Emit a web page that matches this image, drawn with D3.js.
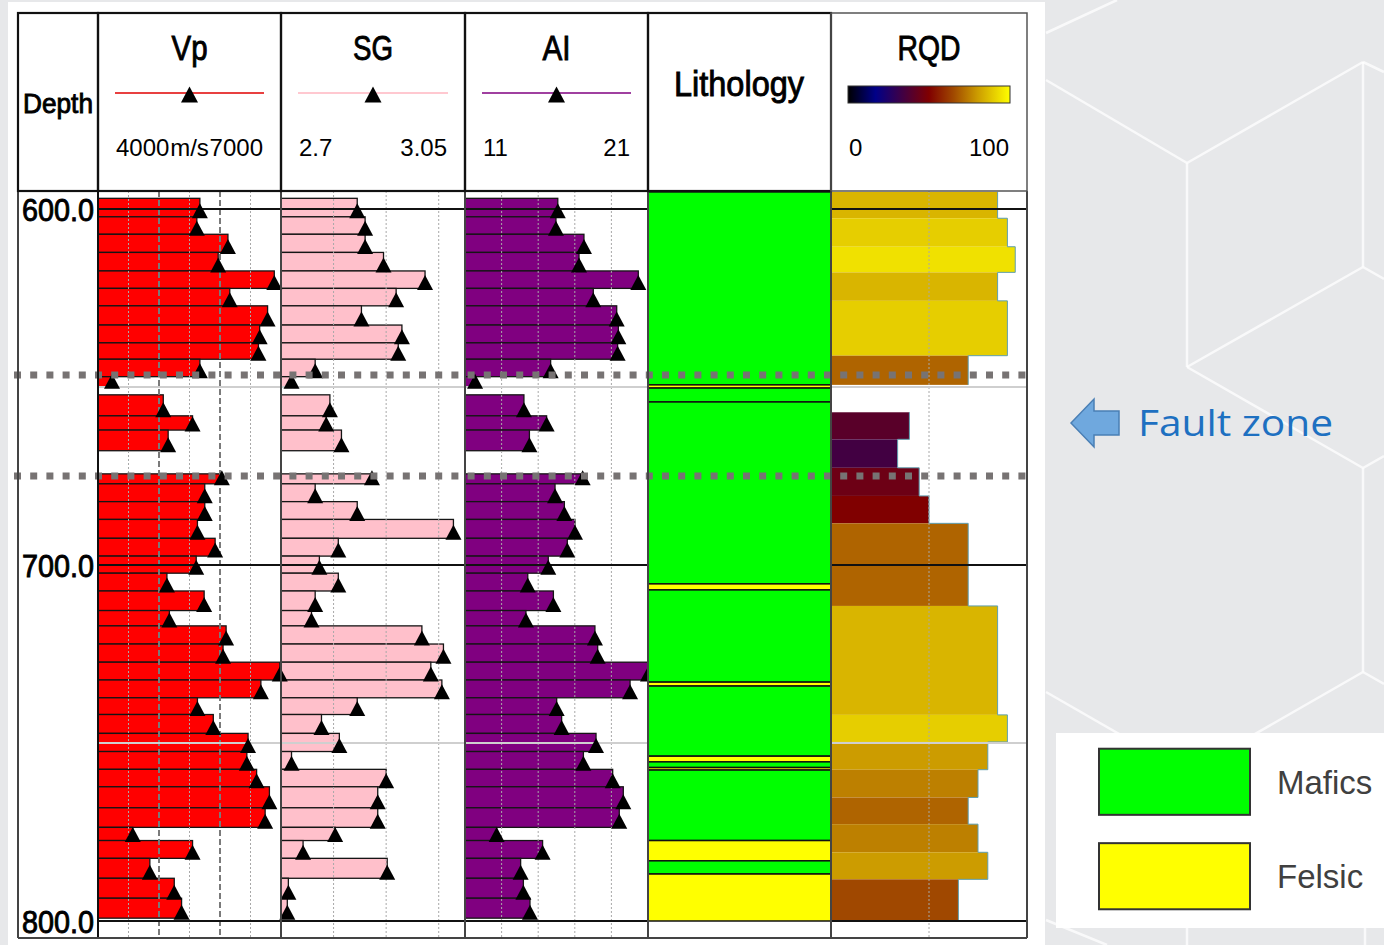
<!DOCTYPE html>
<html>
<head>
<meta charset="utf-8">
<script src="https://cdn.jsdelivr.net/npm/d3@7"></script>
<style>
  body { margin: 0; background: #e7e8ea; }
  #chart svg { display: block; }
</style>
</head>
<body>
<div id="chart"></div>
<script>
// Data
// sample intervals (m) shared by Vp, SG and AI
const sampleTop  = [597.0, 602.2, 607.1, 612.2, 617.4, 622.3, 627.2, 632.6, 637.6, 642.2, 647.1, 652.2, 658.1, 662.1, 674.4, 677.2, 682.2, 687.2, 692.5, 697.5, 702.3, 707.3, 712.8, 717.1, 722.2, 727.3, 732.3, 737.3, 742.0, 747.3, 752.4, 757.4, 762.3, 768.2, 773.7, 777.4, 782.4, 788.0, 793.6]
const sampleBase = [602.2, 607.1, 612.2, 617.4, 622.3, 627.2, 632.6, 637.6, 642.2, 647.1, 650.1, 658.1, 662.1, 667.9, 677.2, 682.2, 687.2, 692.5, 697.5, 702.3, 707.3, 712.8, 717.1, 722.2, 727.3, 732.3, 737.3, 742.0, 747.3, 752.4, 757.4, 762.3, 768.2, 773.7, 777.4, 782.4, 788.0, 793.6, 799.2]
const vpValues = [5670, 5620, 6130, 5970, 6890, 6160, 6780, 6650, 6630, 5670, 4230, 5070, 5550, 5150, 6030, 5750, 5750, 5630, 5920, 5610, 5130, 5740, 5170, 6100, 6050, 6980, 6670, 5630, 5890, 6460, 6440, 6600, 6810, 6740, 4570, 5550, 4850, 5250, 5370]
const sgValues = [2.845, 2.860, 2.860, 2.895, 2.974, 2.919, 2.853, 2.930, 2.923, 2.765, 2.720, 2.793, 2.786, 2.815, 2.873, 2.765, 2.845, 3.028, 2.809, 2.773, 2.809, 2.765, 2.758, 2.968, 3.009, 2.985, 3.006, 2.845, 2.777, 2.811, 2.720, 2.900, 2.884, 2.884, 2.803, 2.742, 2.902, 2.714, 2.712]
const aiValues = [16.07, 15.97, 17.50, 17.23, 20.47, 18.01, 19.29, 19.38, 19.34, 15.68, 11.55, 14.22, 15.46, 14.52, 17.43, 15.92, 16.43, 17.01, 16.59, 15.55, 14.43, 15.83, 14.33, 18.10, 18.25, 21.0, 20.02, 16.01, 16.28, 18.16, 17.47, 19.07, 19.65, 19.43, 12.73, 15.24, 14.04, 14.19, 14.55]

// RQD per core run
const rqdTop   = [595.2, 602.6, 610.6, 617.8, 625.8, 641.2, 657.1, 664.7, 672.7, 680.6, 688.3, 711.5, 742.1, 749.7, 757.5, 765.3, 772.8, 780.7, 788.3]
const rqdBase  = [602.6, 610.6, 617.8, 625.8, 641.2, 649.4, 664.7, 672.7, 680.6, 688.3, 711.5, 742.1, 749.7, 757.5, 765.3, 772.8, 780.7, 788.3, 800.0]
const rqdValues = [85, 90, 94, 85, 90, 70, 40, 34, 45, 50, 70, 85, 90, 80, 75, 70, 75, 80, 65]

// lithology units
const lithTop  = [595.2, 649.4, 650.3, 654.2, 705.3, 707.0, 732.9, 734.0, 753.7, 755.3, 756.9, 757.6, 777.4, 783.1, 786.8]
const lithBase = [649.4, 650.3, 654.2, 705.3, 707.0, 732.9, 734.0, 753.7, 755.3, 756.9, 757.6, 777.4, 783.1, 786.8, 800.0]
const lithType = ['Mafics', 'Felsic', 'Mafics', 'Mafics', 'Felsic', 'Mafics', 'Felsic', 'Mafics', 'Felsic', 'Mafics', 'Felsic', 'Mafics', 'Felsic', 'Mafics', 'Felsic']
const lithCategories = ['Mafics', 'Felsic']

const depthTicks = [600, 700, 800]
const halfTicks = [650, 750]
const faultDepths = [646.6, 675.0]

const vpGrid = [4500, 5000, 5500, 6000, 6500]
const vpMajor = [5000, 6000]
const sgGrid = [2.8, 2.9, 3.0]
const aiGrid = [13, 15, 17, 19]
const rqdGrid = [50]
const rqdStops = [0, 17, 50, 65, 80, 100]

// isosceles triangle, apex up, base on the origin
function triangleType(w, h) {
  return {
    draw(context) {
      context.moveTo(0, -h)
      context.lineTo(w / 2, 0)
      context.lineTo(-w / 2, 0)
      context.closePath()
    }
  }
}

function draw() {
  // Dimensions
  const dimensions = {
    width: 1384,
    height: 945,
    headTop: 13,
    headBottom: 191,
    plotBottom: 938,
  }

  const svg = d3.select('#chart')
    .append('svg')
    .attr('width', dimensions.width)
    .attr('height', dimensions.height)

  // background with faint cube lines
  svg.append('rect').attr('width', dimensions.width).attr('height', dimensions.height).attr('fill', '#e7e8ea')
  const hexLines = [[1046,33,1117,0],[1046,80,1187,163],[1187,163,1187,367],[1187,163,1363,62],[1363,62,1384,72],
    [1363,62,1363,267],[1363,267,1187,367],[1363,267,1384,279],[1187,367,1363,468],[1363,468,1384,456],
    [1363,468,1363,672],[1363,672,1187,773],[1363,672,1384,684],[1187,773,1187,945],[1187,773,1046,692],
    [1046,920,1107,945],[1365,880,1365,945]]
  svg.append('g').selectAll('line').data(hexLines).join('line')
    .attr('x1', d => d[0]).attr('y1', d => d[1]).attr('x2', d => d[2]).attr('y2', d => d[3])
    .attr('stroke', '#ffffff').attr('stroke-opacity', 0.75).attr('stroke-width', 2.5)

  // white slide panel
  svg.append('rect').attr('x', 8).attr('y', 2).attr('width', 1037).attr('height', 943).attr('fill', '#fff')

  // Scales
  const yScale = d3.scaleLinear().domain([600, 800]).range([209, 921])
  const rqdScale = d3.scaleLinear().domain([0, 100]).range([831, 1027]).clamp(true)
  const rqdColor = d3.scaleLinear().domain(rqdStops)
    .range(['#000000', '#000088', '#800000', '#a04800', '#cc9c00', '#ffff00'])

  const tracks = [
    { title: 'Vp', x0: 98, x1: 281, domain: [4000, 7000], values: vpValues, fill: '#ff0000', line: '#e00000',
      lo: '4000', unit: 'm/s', hi: '7000', titleW: 36, grid: vpGrid },
    { title: 'SG', x0: 281, x1: 465, domain: [2.7, 3.05], values: sgValues, fill: '#ffc0cb', line: '#ffb6c1',
      lo: '2.7', unit: '', hi: '3.05', titleW: 40, grid: sgGrid },
    { title: 'AI', x0: 465, x1: 648, domain: [11, 21], values: aiValues, fill: '#800080', line: '#800080',
      lo: '11', unit: '', hi: '21', titleW: 28, grid: aiGrid },
  ]
  tracks.forEach(t => {
    t.scale = d3.scaleLinear().domain(t.domain).range([t.x0, t.x1]).clamp(true)
  })

  const lith = { x0: 648, x1: 831 }
  const lithColor = d3.scaleOrdinal().domain(lithCategories).range(['#00ff00', '#ffff00'])

  const ctr = svg.append('g')
  const tri = d3.symbol().type(triangleType(16, 15))

  // log bars
  tracks.forEach(t => {
    const samples = sampleTop.map((top, i) => ({ top, base: sampleBase[i], v: t.values[i] }))
    ctr.append('g').selectAll('rect').data(samples).join('rect')
      .attr('x', t.x0)
      .attr('y', d => yScale(d.top))
      .attr('width', d => t.scale(d.v) - t.x0)
      .attr('height', d => yScale(d.base) - yScale(d.top))
      .attr('fill', t.fill)
      .attr('stroke', '#151515')
      .attr('stroke-width', 1.3)
    t.samples = samples
  })

  // RQD bars
  const runs = rqdTop.map((top, i) => ({ top, base: rqdBase[i], v: rqdValues[i] }))
  ctr.append('g').selectAll('rect').data(runs).join('rect')
    .attr('x', rqdScale(0))
    .attr('y', d => yScale(d.top))
    .attr('width', d => rqdScale(d.v) - rqdScale(0))
    .attr('height', d => yScale(d.base) - yScale(d.top))
    .attr('fill', d => rqdColor(d.v))
  // thin outline along the right edge of the runs
  const edge = d3.path()
  runs.forEach((d, i) => {
    const prev = runs[i - 1]
    if (prev && prev.base === d.top) edge.lineTo(rqdScale(d.v), yScale(d.top))
    else edge.moveTo(rqdScale(d.v), yScale(d.top))
    edge.lineTo(rqdScale(d.v), yScale(d.base))
  })
  ctr.append('path').attr('d', edge.toString()).attr('fill', 'none').attr('stroke', '#5f9fb0').attr('stroke-width', 1)

  // vertical grid
  const grid = ctr.append('g')
  tracks.forEach(t => {
    const major = d => t.title === 'Vp' && vpMajor.includes(d)
    grid.selectAll(null).data(t.grid).join('line')
      .attr('x1', d => t.scale(d)).attr('x2', d => t.scale(d))
      .attr('y1', dimensions.headBottom).attr('y2', dimensions.plotBottom)
      .attr('stroke', d => major(d) ? '#7a7a7a' : '#a8a8a8')
      .attr('stroke-width', d => major(d) ? 2 : 1)
      .attr('stroke-dasharray', d => major(d) ? '6,3' : '2,2')
  })
  grid.selectAll(null).data(rqdGrid).join('line')
    .attr('x1', d => rqdScale(d)).attr('x2', d => rqdScale(d))
    .attr('y1', dimensions.headBottom).attr('y2', dimensions.plotBottom)
    .attr('stroke', '#a8a8a8').attr('stroke-width', 1).attr('stroke-dasharray', '2,2')

  // horizontal depth lines (not across lithology)
  const spans = [[98, 648], [831, 1027]]
  spans.forEach(s => {
    grid.selectAll(null).data(halfTicks).join('line')
      .attr('x1', s[0]).attr('x2', s[1])
      .attr('y1', d => yScale(d)).attr('y2', d => yScale(d))
      .attr('stroke', '#cfcfcf').attr('stroke-width', 2)
    grid.selectAll(null).data(depthTicks).join('line')
      .attr('x1', s[0]).attr('x2', s[1])
      .attr('y1', d => yScale(d)).attr('y2', d => yScale(d))
      .attr('stroke', '#111').attr('stroke-width', 2)
  })

  // triangle markers
  tracks.forEach(t => {
    ctr.append('g').selectAll('path').data(t.samples).join('path')
      .attr('d', tri)
      .attr('transform', d => `translate(${t.scale(d.v)},${yScale(d.base) + 1.5})`)
      .attr('fill', '#000')
  })

  // lithology column
  const units = lithTop.map((top, i) => ({ top, base: lithBase[i], type: lithType[i] }))
  ctr.append('g').selectAll('rect').data(units).join('rect')
    .attr('x', lith.x0)
    .attr('y', d => yScale(d.top))
    .attr('width', lith.x1 - lith.x0)
    .attr('height', d => yScale(d.base) - yScale(d.top))
    .attr('fill', d => lithColor(d.type))
    .attr('stroke', '#111')
    .attr('stroke-width', 1.5)

  // fault zone markers
  ctr.append('g').selectAll('line').data(faultDepths).join('line')
    .attr('x1', 14).attr('x2', 1027)
    .attr('y1', d => yScale(d)).attr('y2', d => yScale(d))
    .attr('stroke', '#777373').attr('stroke-width', 7).attr('stroke-dasharray', '7,9.2')

  // track borders
  const borders = svg.append('g')
  const trackEdges = [18, 98, 281, 465, 648, 831, 1027]
  borders.selectAll(null).data(trackEdges).join('line')
    .attr('x1', d => d).attr('x2', d => d)
    .attr('y1', dimensions.headBottom).attr('y2', dimensions.plotBottom)
    .attr('stroke', (d, i) => i === 1 ? '#111' : '#444').attr('stroke-width', 2)
  borders.append('line').attr('x1', 18).attr('x2', 1027)
    .attr('y1', dimensions.plotBottom).attr('y2', dimensions.plotBottom)
    .attr('stroke', '#444').attr('stroke-width', 2)

  // Header
  const head = svg.append('g')
  const headCells = [[18, 98], [98, 281], [281, 465], [465, 648], [648, 831], [831, 1027]]
  head.selectAll('rect').data(headCells).join('rect')
    .attr('x', d => d[0]).attr('y', dimensions.headTop)
    .attr('width', d => d[1] - d[0]).attr('height', dimensions.headBottom - dimensions.headTop)
    .attr('fill', 'none')
    .attr('stroke', (d, i) => i === 5 ? '#555' : '#111')
    .attr('stroke-width', (d, i) => i === 5 ? 1.5 : 2.2)

  const narrow = '"Liberation Sans Narrow", "Arial Narrow", "Liberation Sans", Arial, sans-serif'
  const plain = '"Liberation Sans", Arial, sans-serif'
  // the narrow titles look heavy in the original, thicken them a little
  const heavy = sel => sel.attr('stroke', '#000').attr('stroke-width', 0.9)

  head.append('text').text('Depth')
    .attr('x', 58).attr('y', 113).attr('text-anchor', 'middle')
    .attr('font-family', narrow).attr('font-size', 28)
    .attr('textLength', 70).attr('lengthAdjust', 'spacingAndGlyphs')
    .call(heavy)

  tracks.forEach(t => {
    const cx = (t.x0 + t.x1) / 2
    head.append('text').text(t.title)
      .attr('x', cx).attr('y', 60).attr('text-anchor', 'middle')
      .attr('font-family', narrow).attr('font-size', 35)
      .attr('textLength', t.titleW).attr('lengthAdjust', 'spacingAndGlyphs')
      .call(heavy)
    head.append('line')
      .attr('x1', t.x0 + 17).attr('x2', t.x1 - 17).attr('y1', 93).attr('y2', 93)
      .attr('stroke', t.line).attr('stroke-width', 1.5)
    head.append('path')
      .attr('d', d3.symbol().type(triangleType(17, 16)))
      .attr('transform', `translate(${cx},102.5)`)
      .attr('fill', '#000')
    head.append('text').text(t.lo)
      .attr('x', t.x0 + 18).attr('y', 156)
      .attr('font-family', plain).attr('font-size', 24)
    head.append('text').text(t.hi)
      .attr('x', t.x1 - 18).attr('y', 156).attr('text-anchor', 'end')
      .attr('font-family', plain).attr('font-size', 24)
    if (t.unit) {
      head.append('text').text(t.unit)
        .attr('x', cx).attr('y', 156).attr('text-anchor', 'middle')
        .attr('font-family', plain).attr('font-size', 24)
    }
  })

  head.append('text').text('Lithology')
    .attr('x', 739).attr('y', 96).attr('text-anchor', 'middle')
    .attr('font-family', narrow).attr('font-size', 35)
    .attr('textLength', 130).attr('lengthAdjust', 'spacingAndGlyphs')
    .call(heavy)

  head.append('text').text('RQD')
    .attr('x', 929).attr('y', 60).attr('text-anchor', 'middle')
    .attr('font-family', narrow).attr('font-size', 35)
    .attr('textLength', 63).attr('lengthAdjust', 'spacingAndGlyphs')
    .call(heavy)

  // RQD colour bar
  const grad = svg.append('defs').append('linearGradient').attr('id', 'rqdGrad')
  grad.selectAll('stop').data(rqdStops).join('stop')
    .attr('offset', d => `${d}%`)
    .attr('stop-color', d => rqdColor(d))
  head.append('rect').attr('x', 848).attr('y', 86).attr('width', 162).attr('height', 17)
    .attr('fill', 'url(#rqdGrad)').attr('stroke', '#333').attr('stroke-width', 1)
  head.append('text').text('0').attr('x', 849).attr('y', 156)
    .attr('font-family', plain).attr('font-size', 24)
  head.append('text').text('100').attr('x', 1009).attr('y', 156).attr('text-anchor', 'end')
    .attr('font-family', plain).attr('font-size', 24)

  // depth labels
  svg.append('g').selectAll('text').data(depthTicks).join('text')
    .text(d => d3.format('.1f')(d))
    .attr('x', 22).attr('y', d => yScale(d) + 11.5)
    .attr('font-family', narrow).attr('font-size', 31)
    .attr('textLength', 72).attr('lengthAdjust', 'spacingAndGlyphs')
    .call(heavy)

  // Fault zone callout
  const note = svg.append('g')
  note.append('path')
    .attr('d', d3.line()([[1071, 423], [1094, 399], [1094, 411], [1119, 411], [1119, 435], [1094, 435], [1094, 447]]) + 'Z')
    .attr('fill', '#6fa8de').attr('stroke', '#4a7fb5').attr('stroke-width', 1.5)
  note.append('text').text('Fault zone')
    .attr('x', 1138).attr('y', 436)
    .attr('font-family', '"Open Sans", "Noto Sans", sans-serif').attr('font-size', 37)
    .attr('fill', '#1e70c1')
    .attr('textLength', 195).attr('lengthAdjust', 'spacingAndGlyphs')

  // Legend
  const legend = svg.append('g')
  legend.append('rect').attr('x', 1056).attr('y', 733).attr('width', 340).attr('height', 195).attr('fill', '#fff')
  const legY = d3.scaleBand().domain(lithCategories).range([744, 914]).paddingInner(0.3).paddingOuter(0.05)
  legend.selectAll('rect.key').data(lithCategories).join('rect')
    .attr('class', 'key')
    .attr('x', 1099).attr('y', d => legY(d))
    .attr('width', 151).attr('height', legY.bandwidth())
    .attr('fill', d => lithColor(d)).attr('stroke', '#333').attr('stroke-width', 2)
  legend.selectAll('text').data(lithCategories).join('text')
    .text(d => d)
    .attr('x', 1277).attr('y', d => legY(d) + legY.bandwidth() / 2 + 12)
    .attr('font-family', plain).attr('font-size', 33).attr('fill', '#404040')
}
draw()
</script>
</body>
</html>
